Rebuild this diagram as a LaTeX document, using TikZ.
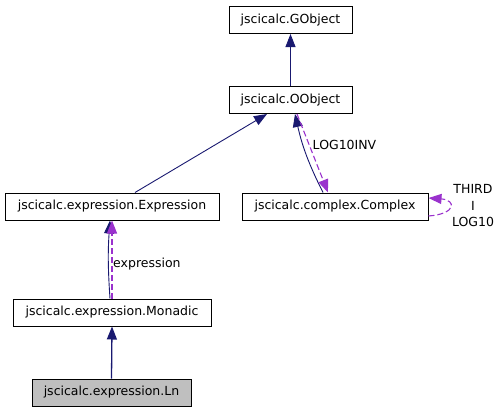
\documentclass[tikz,border=0pt]{standalone}
\usepackage{fontspec}
\setmainfont{DejaVu Sans}
\usetikzlibrary{arrows.meta,calc}
\definecolor{inhcol}{HTML}{191970}
\definecolor{usecol}{HTML}{9A32CD}
\begin{document}
\begin{tikzpicture}[x=1pt,y=-1pt,
  box/.style={draw=black,line width=1pt,rectangle,inner sep=0pt,minimum height=27pt,fill=white,
    font=\fontsize{12.5}{15}\selectfont},
  inh/.style={draw=inhcol,line width=0.9pt,-{Triangle[length=13pt,width=10pt]}},
  use/.style={draw=usecol,line width=1.1pt,dash pattern=on 6pt off 3pt,-{Triangle[length=13pt,width=10pt,fill=usecol]}},
  lbl/.style={font=\fontsize{12.5}{16.5}\selectfont,inner sep=0pt,align=center}]
\useasboundingbox (0,0) rectangle (500,413);
\node[box,minimum width=123pt] (gobj) at (290.5,20) {jscicalc.GObject};
\node[box,minimum width=123pt] (oobj) at (290.5,100) {jscicalc.OObject};
\node[box,minimum width=214pt] (expr) at (112,206.5) {jscicalc.expression.Expression};
\node[box,minimum width=186pt] (cplx) at (335,206.5) {jscicalc.complex.Complex};
\node[box,minimum width=198pt] (mona) at (112,312.5) {jscicalc.expression.Monadic};
\node[box,minimum width=159pt,fill={rgb,255:red,191;green,191;blue,191}] (ln) at (111.5,392.5) {jscicalc.expression.Ln};
% edges
\draw[inh] (oobj.north) -- (gobj.south);
\draw[inh] ($(expr.north)+(23,0)$) -- ($(oobj.south)+(-23.5,0)$);
\draw[inh] ($(cplx.north)+(-12,0)$) to[bend left=7] ($(oobj.south)+(4.5,0)$);
\draw[use] ($(oobj.south)+(6.5,0)$) -- ($(cplx.north)+(-7,0)$);
\node[lbl] (l1) at (344.5,145) {LOG10INV};
\draw[use] ($(cplx.east)+(0,9.5)$) .. controls ($(cplx.east)+(28,7.5)$) and ($(cplx.east)+(28,-6.5)$) .. ($(cplx.east)+(0,-8.5)$);
\node[lbl] (l2) at (473,206) {THIRD\\I\\LOG10};
\draw[inh] ($(mona.north)+(-2,0)$) to[bend left=4] ($(expr.south)+(-2,0)$);
\draw[use] (mona.north) -- (expr.south);
\node[lbl,anchor=west] (l3) at (113,264.5) {expression};
\draw[inh,line width=1.3pt] (ln.north) -- (mona.south);
\end{tikzpicture}
\end{document}
